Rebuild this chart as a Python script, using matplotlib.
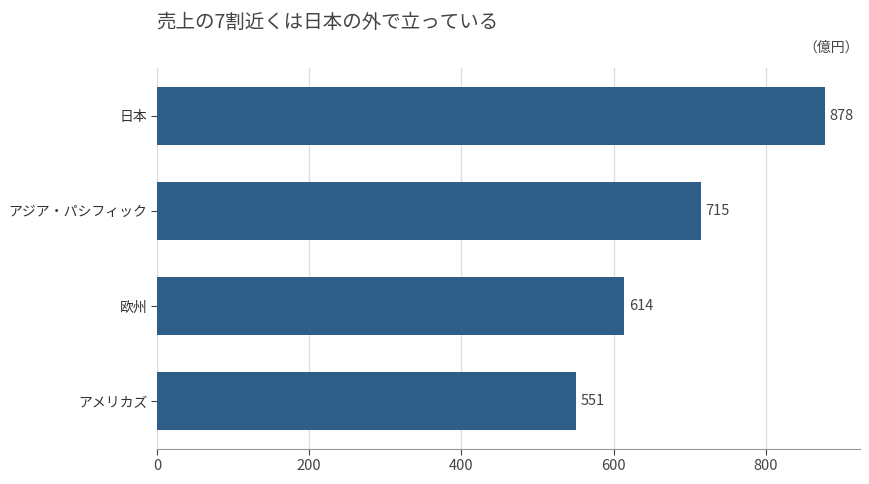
import matplotlib
matplotlib.use("Agg")
import matplotlib.pyplot as plt

plt.rcParams['font.family'] = ['Noto Sans CJK JP', 'DejaVu Sans']

regions = ["日本", "アジア・パシフィック", "欧州", "アメリカズ"]
sales = [878, 715, 614, 551]
xticks = [0, 200, 400, 600, 800]

fig = plt.figure(figsize=(8.7, 4.84), dpi=100)
ax = fig.add_axes([0.1805, 0.0723, 0.808, 0.7872])

ypos = list(range(len(regions)))[::-1]
bars = ax.barh(ypos, sales, height=0.61, color="#2e5d87", zorder=3)
for y, v in zip(ypos, sales):
    ax.text(v + 6, y, str(v), va="center", ha="left", fontsize=10.5, color="#444444")

ax.set_yticks(ypos)
ax.set_yticklabels(regions, fontsize=10, color="#333333")
ax.set_xticks(xticks)
ax.set_xticklabels([str(t) for t in xticks], fontsize=10.5, color="#444444")
ax.set_xlim(0, 924)
ax.set_ylim(-0.5, 3.5)

ax.grid(axis="x", color="#dddddd", linewidth=1, zorder=0)
for s in ["top", "right", "left"]:
    ax.spines[s].set_visible(False)
ax.spines["bottom"].set_color("#999999")
ax.tick_params(axis="y", length=4, color="#444444", pad=3)
ax.tick_params(axis="x", length=4, color="#444444", pad=3)

fig.text(156 / 870, 1 - 22 / 484, "売上の7割近くは日本の外で立っている",
         fontsize=14, color="#444444", ha="left", va="center")
fig.text(859 / 870, 1 - 48 / 484, "（億円）", fontsize=10, color="#444444",
         ha="right", va="center")

fig.savefig("out.png", dpi=100)
